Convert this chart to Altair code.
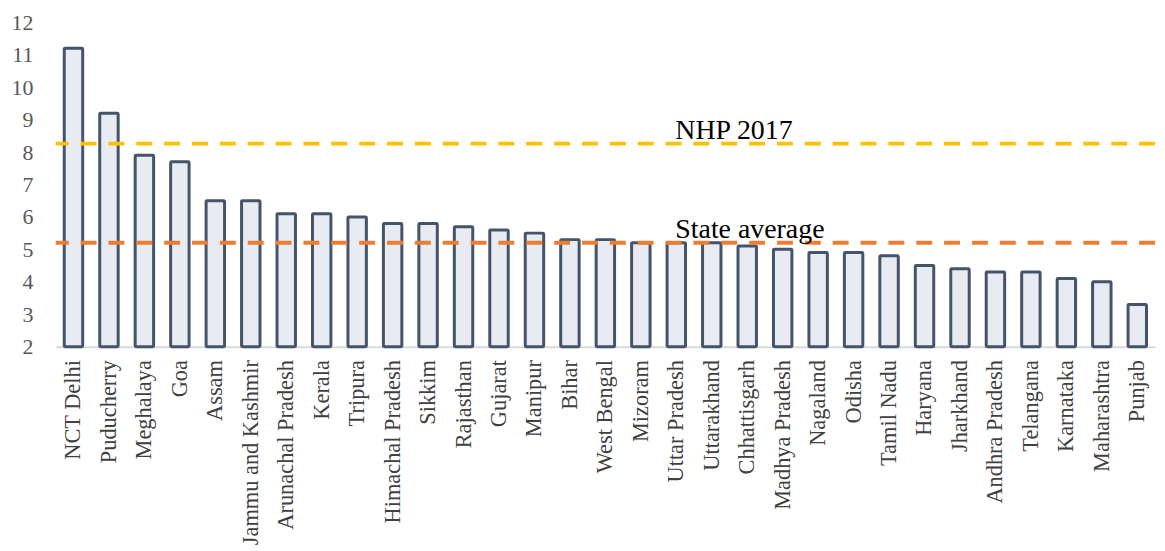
import altair as alt
import pandas as pd

states = ["NCT Delhi", "Puducherry", "Meghalaya", "Goa", "Assam", "Jammu and Kashmir",
          "Arunachal Pradesh", "Kerala", "Tripura", "Himachal Pradesh", "Sikkim", "Rajasthan",
          "Gujarat", "Manipur", "Bihar", "West Bengal", "Mizoram", "Uttar Pradesh", "Uttarakhand",
          "Chhattisgarh", "Madhya Pradesh", "Nagaland", "Odisha", "Tamil Nadu", "Haryana",
          "Jharkhand", "Andhra Pradesh", "Telangana", "Karnataka", "Maharashtra", "Punjab"]
values = [11.2, 9.2, 7.9, 7.7, 6.5, 6.5, 6.1, 6.1, 6.0, 5.8, 5.8, 5.7, 5.6, 5.5, 5.3, 5.3,
          5.2, 5.2, 5.2, 5.1, 5.0, 4.9, 4.9, 4.8, 4.5, 4.4, 4.3, 4.3, 4.1, 4.0, 3.3]
axis_min = 2
axis_max = 12
y_ticks = list(range(axis_min, axis_max + 1))
nhp_2017 = 8.26
state_average = 5.2
label_anchor = "Uttar Pradesh"

FONT = "Liberation Serif"

df = pd.DataFrame({"state": states, "value": values, "base": [axis_min] * len(states)})
lines = pd.DataFrame({"name": ["NHP 2017", "State average"],
                      "y": [nhp_2017, state_average],
                      "color": ["#FFC000", "#ED7D31"],
                      "anchor": [label_anchor, label_anchor]})

xscale = alt.Scale(domain=states, paddingInner=0.48, paddingOuter=0.24)
yscale = alt.Scale(domain=[axis_min, axis_max], zero=False, nice=False)

xaxis = alt.Axis(labelAngle=-90, labelFont=FONT, labelFontSize=22.5,
                 labelColor="#404040", labelPadding=13, ticks=False, tickSize=0,
                 domainColor="#D9D9D9", domainWidth=2, labelLimit=400,
                 labelOverlap=False, title=None)
yaxis = alt.Axis(values=y_ticks, grid=False, domain=False,
                 ticks=False, tickSize=0, labelFont=FONT, labelFontSize=22,
                 labelColor="#595959", labelPadding=23, labelOverlap=False,
                 labelFlush=False, minExtent=40, maxExtent=40, title=None)

bars = alt.Chart(df).mark_bar(
    fill="#E8EBF1", stroke="#44546A", strokeWidth=3, strokeJoin="round", cornerRadius=1
).encode(
    x=alt.X("state:N", scale=xscale, sort=None, axis=xaxis),
    y=alt.Y("value:Q", scale=yscale, axis=yaxis),
    y2="base:Q",
)

rules = alt.Chart(lines).mark_rule(strokeWidth=4, strokeDash=[16, 12]).encode(
    y=alt.Y("y:Q", scale=yscale, axis=yaxis),
    color=alt.Color("color:N", scale=None, legend=None),
)

texts = alt.Chart(lines).mark_text(
    align="left", baseline="alphabetic", font=FONT, fontSize=28, color="#000000", dx=-1, dy=-5
).encode(
    x=alt.X("anchor:N", scale=xscale, sort=None, axis=xaxis),
    y=alt.Y("y:Q", scale=yscale, axis=yaxis),
    text="name:N",
)

chart = alt.layer(bars, rules, texts).properties(
    width=1105, height=326,
    padding={"top": 2, "left": 3, "right": 0, "bottom": 0},
).configure_view(stroke=None)

chart.save("out.html", embed_options={"renderer": "svg", "actions": False})
